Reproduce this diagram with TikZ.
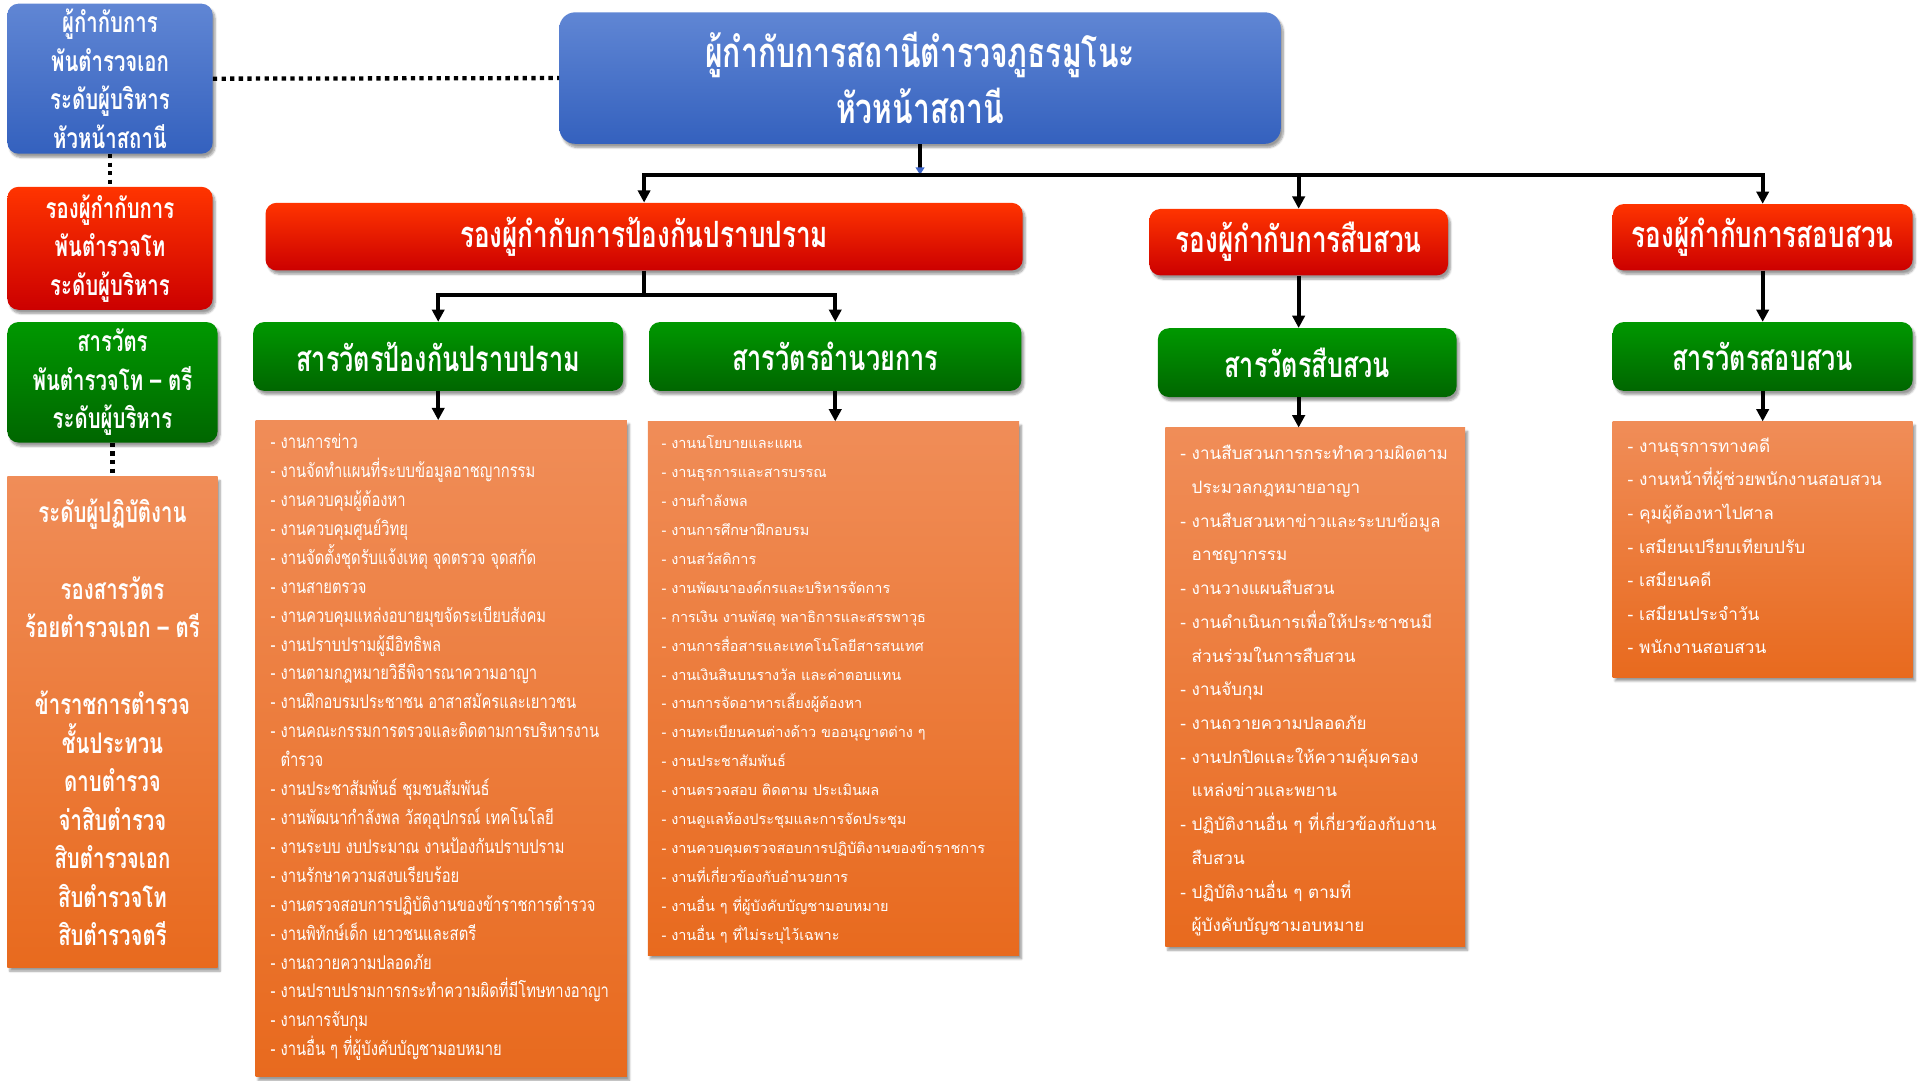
\documentclass[tikz,border=0pt]{standalone}
\usepackage{fontspec}
\newfontfamily\thai[Script=Thai]{Loma}
\newfontfamily\thaic[Script=Thai,FakeStretch=0.78]{Loma}
\newfontfamily\thaih[Script=Thai,FakeStretch=0.72]{Loma}
\usetikzlibrary{arrows.meta,shadows.blur}
\definecolor{bluetop}{RGB}{96,134,212}
\definecolor{bluebot}{RGB}{52,97,190}
\definecolor{redtop}{RGB}{255,52,0}
\definecolor{redmid}{RGB}{255,0,0}
\definecolor{redbot}{RGB}{204,0,0}
\definecolor{greentop}{RGB}{0,152,0}
\definecolor{greenbot}{RGB}{0,102,0}
\definecolor{orgtop}{RGB}{240,141,88}
\definecolor{orgbot}{RGB}{232,106,30}
\definecolor{tipblue}{RGB}{60,100,200}
\tikzset{
  box/.style={rounded corners=9pt,text=white,align=center,inner sep=0pt,
    blur shadow={shadow xshift=2pt,shadow yshift=-3pt,shadow blur steps=6}},
  bluebox/.style={box,top color=bluetop,bottom color=bluebot},
  redbox/.style={box,top color=redtop,middle color=redmid,bottom color=redbot},
  greenbox/.style={box,top color=greentop,bottom color=greenbot},
  orgbox/.style={box,rounded corners=0pt,top color=orgtop,bottom color=orgbot},
  conn/.style={line width=3pt},
  arr/.style={conn,-{Triangle[length=10pt,width=10pt]}},
  dots/.style={line width=3.5pt,dash pattern=on 3.5pt off 3.5pt},
  item/.style={anchor=base west,text=white,inner sep=0pt}
}
\newcommand{\hd}[1]{\thaih\bfseries\fontsize{#1}{#1}\selectfont}
\newcommand{\side}{\thaih\bfseries\fontsize{23}{31.3}\selectfont}

\begin{document}
\begin{tikzpicture}[x=1pt,y=-1pt]
\useasboundingbox (0,0) rectangle (1562,879);

% left column
\node[bluebox,minimum width=167,minimum height=122,font=\side] (lb) at (89.5,64)
  {ผู้กำกับการ\\พันตำรวจเอก\\ระดับผู้บริหาร\\หัวหน้าสถานี};
\node[redbox,minimum width=167,minimum height=100,font=\side] (lr) at (89.5,202)
  {รองผู้กำกับการ\\พันตำรวจโท\\ระดับผู้บริหาร};
\node[greenbox,minimum width=171,minimum height=98,font=\side] (lg) at (91.5,311)
  {สารวัตร\\พันตำรวจโท – ตรี\\ระดับผู้บริหาร};
\node[orgbox,minimum width=171,minimum height=399,font=\side] (lo) at (91.5,587.5)
  {ระดับผู้ปฏิบัติงาน\\[31.3pt]รองสารวัตร\\ร้อยตำรวจเอก – ตรี\\[31.3pt]ข้าราชการตำรวจ\\ชั้นประทวน\\ดาบตำรวจ\\จ่าสิบตำรวจ\\สิบตำรวจเอก\\สิบตำรวจโท\\สิบตำรวจตรี};

% top
\node[bluebox,rounded corners=13pt,minimum width=587,minimum height=107,
  font={\hd{34}\fontsize{34}{45}\selectfont}] (main) at (748.5,63.5)
  {ผู้กำกับการสถานีตำรวจภูธรมูโนะ\\หัวหน้าสถานี};
\node[redbox,minimum width=616,minimum height=55,font=\hd{29.5}] (r1) at (524,192.5) {รองผู้กำกับการป้องกันปราบปราม};
\node[redbox,minimum width=243,minimum height=54,font=\hd{29.5}] (r2) at (1056.5,197) {รองผู้กำกับการสืบสวน};
\node[redbox,minimum width=244,minimum height=54,font=\hd{29.5}] (r3) at (1434,193) {รองผู้กำกับการสอบสวน};

\node[greenbox,minimum width=301,minimum height=56,font=\hd{28.5}] (g1) at (356.5,290) {สารวัตรป้องกันปราบปราม};
\node[greenbox,minimum width=303,minimum height=56,font=\hd{28.5}] (g2) at (679.5,290) {สารวัตรอำนวยการ};
\node[greenbox,minimum width=243,minimum height=56,font=\hd{28.5}] (g3) at (1063.5,295) {สารวัตรสืบสวน};
\node[greenbox,minimum width=244,minimum height=56,font=\hd{28.5}] (g4) at (1434,290) {สารวัตรสอบสวน};

\node[orgbox,minimum width=302,minimum height=534] (o1) at (359,609) {};
\node[orgbox,minimum width=302,minimum height=434] (o2) at (678,560) {};
\node[orgbox,minimum width=244,minimum height=422] (o3) at (1070,559) {};
\node[orgbox,minimum width=244,minimum height=208] (o4) at (1434,447) {};

\foreach \t [count=\i from 0] in {- งานการข่าว,- งานจัดทำแผนที่ระบบข้อมูลอาชญากรรม,- งานควบคุมผู้ต้องหา,
  - งานควบคุมศูนย์วิทยุ,- งานจัดตั้งชุดรับแจ้งเหตุ จุดตรวจ จุดสกัด,- งานสายตรวจ,
  - งานควบคุมแหล่งอบายมุขจัดระเบียบสังคม,- งานปราบปรามผู้มีอิทธิพล,- งานตามกฎหมายวิธีพิจารณาความอาญา,
  - งานฝึกอบรมประชาชน อาสาสมัครและเยาวชน,- งานคณะกรรมการตรวจและติดตามการบริหารงาน,{\hphantom{- }ตำรวจ},
  - งานประชาสัมพันธ์ ชุมชนสัมพันธ์,- งานพัฒนากำลังพล วัสดุอุปกรณ์ เทคโนโลยี,- งานระบบ งบประมาณ งานป้องกันปราบปราม,
  - งานรักษาความสงบเรียบร้อย,- งานตรวจสอบการปฏิบัติงานของข้าราชการตำรวจ,- งานพิทักษ์เด็ก เยาวชนและสตรี,
  - งานถวายความปลอดภัย,- งานปราบปรามการกระทำความผิดที่มีโทษทางอาญา,- งานการจับกุม,
  - งานอื่น ๆ ที่ผู้บังคับบัญชามอบหมาย}
  \node[item,font=\thaic\fontsize{15.4}{15.4}\selectfont] (o1-\i) at (220,365+\i*23.52) {\t};

\foreach \t [count=\i from 0] in {- งานนโยบายและแผน,- งานธุรการและสารบรรณ,- งานกำลังพล,- งานการศึกษาฝึกอบรม,
  - งานสวัสดิการ,- งานพัฒนาองค์กรและบริหารจัดการ,- การเงิน งานพัสดุ พลาธิการและสรรพาวุธ,
  - งานการสื่อสารและเทคโนโลยีสารสนเทศ,- งานเงินสินบนรางวัล และค่าตอบแทน,- งานการจัดอาหารเลี้ยงผู้ต้องหา,
  - งานทะเบียนคนต่างด้าว ขออนุญาตต่าง ๆ,- งานประชาสัมพันธ์,- งานตรวจสอบ ติดตาม ประเมินผล,
  - งานดูแลห้องประชุมและการจัดประชุม,- งานควบคุมตรวจสอบการปฏิบัติงานของข้าราชการ,
  - งานที่เกี่ยวข้องกับอำนวยการ,- งานอื่น ๆ ที่ผู้บังคับบัญชามอบหมาย,- งานอื่น ๆ ที่ไม่ระบุไว้เฉพาะ}
  \node[item,font=\thai\fontsize{11.8}{11.8}\selectfont] (o2-\i) at (538,365+\i*23.53) {\t};

\foreach \t [count=\i from 0] in {- งานสืบสวนการกระทำความผิดตาม,{\hphantom{- }ประมวลกฎหมายอาญา},
  - งานสืบสวนหาข่าวและระบบข้อมูล,{\hphantom{- }อาชญากรรม},- งานวางแผนสืบสวน,
  - งานดำเนินการเพื่อให้ประชาชนมี,{\hphantom{- }ส่วนร่วมในการสืบสวน},- งานจับกุม,- งานถวายความปลอดภัย,
  - งานปกปิดและให้ความคุ้มครอง,{\hphantom{- }แหล่งข่าวและพยาน},- ปฏิบัติงานอื่น ๆ ที่เกี่ยวข้องกับงาน,
  {\hphantom{- }สืบสวน},- ปฏิบัติงานอื่น ๆ ตามที่,{\hphantom{- }ผู้บังคับบัญชามอบหมาย}}
  \node[item,font=\thai\fontsize{13.9}{13.9}\selectfont] (o3-\i) at (960,374+\i*27.43) {\t};

\foreach \t [count=\i from 0] in {- งานธุรการทางคดี,- งานหน้าที่ผู้ช่วยพนักงานสอบสวน,- คุมผู้ต้องหาไปศาล,
  - เสมียนเปรียบเทียบปรับ,- เสมียนคดี,- เสมียนประจำวัน,- พนักงานสอบสวน}
  \node[item,font=\thai\fontsize{14}{14}\selectfont] (o4-\i) at (1324,368+\i*27.33) {\t};

% connectors
\draw[dots] (lb.east) -- (main.west);
\draw[dots] (lb.south) -- (lr.north);
\draw[dots] (lg.south) -- (lo.north);
\draw[conn,-{Triangle[length=6pt,width=7pt,color=tipblue]}] (main.south) -- ++(0,25) coordinate (bus);
\draw[arr] (bus) -| (r1.north);
\draw[arr] (bus) -| (r2.north);
\draw[arr] (bus) -| (r3.north);
\draw[conn] (r1.south) -- ++(0,20) coordinate (r1b);
\draw[arr] (r1b) -| (g1.north);
\draw[arr] (r1b) -| (g2.north);
\draw[arr] (r2.south) -- (r2.south |- g3.north);
\draw[arr] (r3.south) -- (g4.north);
\draw[arr] (g1.south) -- (g1.south |- o1.north);
\draw[arr] (g2.south) -- (g2.south |- o2.north);
\draw[arr] (g3.south -| r2.south) -- (r2.south |- o3.north);
\draw[arr] (g4.south) -- (o4.north);
\end{tikzpicture}
\end{document}
